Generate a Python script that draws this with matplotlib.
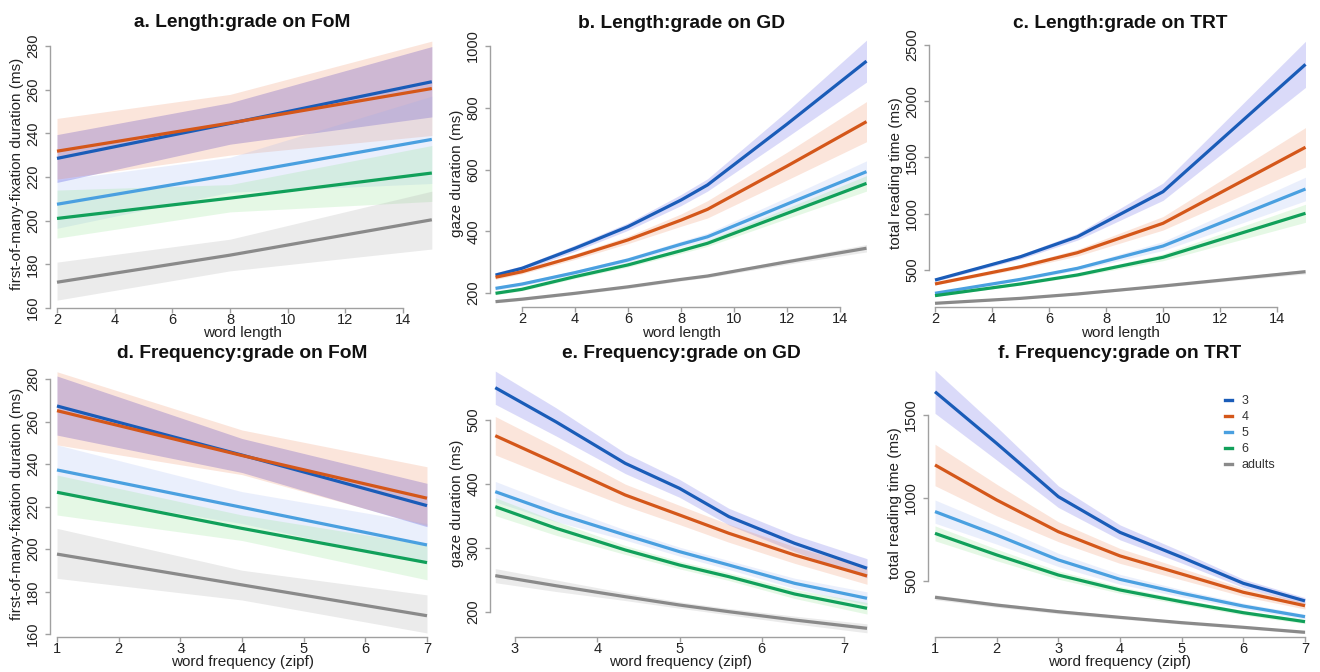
import matplotlib
matplotlib.use("Agg")
import matplotlib.pyplot as plt
from matplotlib.lines import Line2D
import numpy as np

plt.rcParams['font.family'] = ['Liberation Sans', 'DejaVu Sans']

# ---------------- data ----------------
groups = ['3', '4', '5', '6', 'adults']

# a. Length:grade on FoM
a_x = [2, 8, 15]
a_fit = {'3': [228.5, 244.5, 263.6], '4': [231.8, 244.7, 260.5], '5': [207.5, 220.9, 237.2],
         '6': [201.0, 210.3, 221.8], 'adults': [171.8, 184.2, 200.4]}
a_lo = {'3': [217.5, 235.0, 247.5], '4': [219.0, 230.0, 239.0], '5': [196.5, 213.0, 217.0],
        '6': [192.0, 204.0, 208.8], 'adults': [163.6, 177.0, 187.0]}
a_hi = {'3': [239.4, 254.0, 279.7], '4': [246.8, 257.8, 282.2], '5': [218.5, 229.0, 257.0],
        '6': [214.0, 216.5, 234.4], 'adults': [181.0, 191.5, 213.5]}

# b. Length:grade on GD
b_x = [1, 2, 4, 6, 8, 9, 12, 15]
b_fit = {'3': [258, 280, 345, 415, 501, 550, 747, 951],
         '4': [251, 269, 318, 372, 436, 471, 611, 755],
         '5': [215, 229, 266, 307, 358, 382, 488, 593],
         '6': [199, 212, 253, 291, 337, 361, 458, 555],
         'adults': [172, 180, 199, 220, 244, 255, 301, 345]}
b_ci = {'3': [8, 8, 10, 12, 18, 20, 42, 68],
        '4': [7, 7, 9, 12, 20, 28, 45, 65],
        '5': [6, 6, 7, 8, 10, 12, 22, 35],
        '6': [5, 5, 6, 7, 9, 10, 17, 25],
        'adults': [4, 4, 4, 5, 5, 5, 8, 12]}

# c. Length:grade on TRT
c_x = [2, 5, 7, 10, 15]
c_fit = {'3': [411, 618, 796, 1196, 2328],
         '4': [376, 529, 654, 915, 1591],
         '5': [293, 417, 515, 713, 1220],
         '6': [272, 376, 456, 613, 1004],
         'adults': [204, 248, 287, 358, 485]}
c_ci = {'3': [12, 20, 30, 77, 205],
        '4': [10, 18, 30, 60, 175],
        '5': [8, 12, 18, 40, 105],
        '6': [7, 10, 15, 30, 80],
        'adults': [5, 6, 7, 10, 20]}

# d. Frequency:grade on FoM
d_x = [1, 4, 7]
d_fit = {'3': [267.3, 244.2, 220.4], '4': [265.1, 244.0, 223.9], '5': [237.2, 219.6, 201.9],
         '6': [226.7, 209.7, 193.6], 'adults': [197.6, 183.1, 168.6]}
d_lo = {'3': [253.6, 236.0, 210.5], '4': [249.0, 235.0, 211.0], '5': [226.0, 212.0, 193.0],
        '6': [216.0, 204.0, 185.5], 'adults': [186.2, 176.0, 160.5]}
d_hi = {'3': [281.4, 252.0, 230.9], '4': [283.4, 256.0, 238.7], '5': [249.0, 227.0, 212.0],
        '6': [234.8, 216.0, 202.0], 'adults': [209.7, 190.0, 178.4]}

# e. Frequency:grade on GD
e_x = [2.76, 3.5, 4.34, 5.0, 5.6, 6.4, 7.28]
e_fit = {'3': [550.5, 497, 432.3, 393.2, 349, 307.3, 268.3],
         '4': [475.5, 432.3, 382.8, 351.6, 323, 289, 256.3],
         '5': [388, 354.2, 320.3, 294.3, 273.4, 244.8, 221.4],
         '6': [364.6, 330.8, 296.9, 273.4, 255.2, 228.1, 205.8],
         'adults': [256.8, 241, 223.9, 210.9, 200.5, 187.5, 174.5]}
e_ci = {'3': [26, 22, 16, 14, 13, 13, 15],
        '4': [30, 25, 17, 15, 14, 13, 13],
        '5': [16, 13, 8, 7, 7, 8, 10],
        '6': [14, 11, 7, 6, 6, 7, 9],
        'adults': [11, 9, 6, 5, 5, 6, 7]}

# f. Frequency:grade on TRT
f_x = [1, 2, 3, 4, 5, 6, 7]
f_fit = {'3': [1640, 1329, 1008, 793, 643, 486, 380],
         '4': [1199, 988, 797, 651, 542, 432, 351],
         '5': [918, 777, 627, 510, 426, 349, 285],
         '6': [787, 657, 536, 446, 375, 309, 255],
         'adults': [402, 355, 315, 281, 249, 221, 191]}
f_ci = {'3': [130, 100, 65, 45, 35, 25, 20],
        '4': [125, 95, 60, 45, 35, 25, 20],
        '5': [70, 55, 40, 30, 22, 18, 15],
        '6': [45, 35, 25, 20, 16, 14, 12],
        'adults': [15, 13, 12, 10, 9, 8, 8]}

titles = ['a. Length:grade on FoM', 'b. Length:grade on GD', 'c. Length:grade on TRT',
          'd. Frequency:grade on FoM', 'e. Frequency:grade on GD', 'f. Frequency:grade on TRT']
ylabels = ['first-of-many-fixation duration (ms)', 'gaze duration (ms)', 'total reading time (ms)',
           'first-of-many-fixation duration (ms)', 'gaze duration (ms)', 'total reading time (ms)']
xlabels = ['word length', 'word length', 'word length',
           'word frequency (zipf)', 'word frequency (zipf)', 'word frequency (zipf)']
xticks_list = [[2, 4, 6, 8, 10, 12, 14]] * 3 + [[1, 2, 3, 4, 5, 6, 7], [3, 4, 5, 6, 7], [1, 2, 3, 4, 5, 6, 7]]
yticks_list = [[160, 180, 200, 220, 240, 260, 280], [200, 400, 600, 800, 1000], [500, 1000, 1500, 2000, 2500],
               [160, 180, 200, 220, 240, 260, 280], [200, 300, 400, 500], [500, 1000, 1500]]

# ---------------- styling ----------------
line_colors = {'3': '#1a5cb8', '4': '#d4571a', '5': '#4aa0e0', '6': '#11a05a', 'adults': '#8a8a8a'}
fill_colors = {'3': '#6f6fe8', '4': '#f08a5d', '5': '#8fa8f0', '6': '#7ee07e', 'adults': '#b0b0b0'}
fill_alpha = {'3': 0.25, '4': 0.22, '5': 0.18, '6': 0.2, 'adults': 0.25}

W, H = 1320, 672
fig = plt.figure(figsize=(W / 100, H / 100), dpi=100)
fig.patch.set_facecolor('white')

# pixel layout: (left, right, top, bottom), x calib, y calib, ylabel right edge px, xlabel top px
layout = [
    ((50, 435, 40, 308), (2, 57, 14, 403), (280, 46, 160, 311.5), 24, 326),
    ((490, 872, 40, 307), (2, 522, 14, 840), (1000, 46, 200, 293), 464, 326),
    ((929, 1312, 40, 307), (2, 935, 14, 1277), (2500, 45, 500, 270), 903, 326),
    ((50, 435, 370, 637), (1, 57, 7, 427), (280, 379, 160, 634), 24, 655),
    ((490, 872, 370, 637), (3, 515, 7, 844), (500, 420, 200, 612), 464, 655),
    ((928, 1312, 370, 637), (1, 935, 7, 1305), (1500, 415, 500, 581), 902, 655),
]

panels = [
    (a_x, a_fit, a_lo, a_hi, None),
    (b_x, b_fit, None, None, b_ci),
    (c_x, c_fit, None, None, c_ci),
    (d_x, d_fit, d_lo, d_hi, None),
    (e_x, e_fit, None, None, e_ci),
    (f_x, f_fit, None, None, f_ci),
]

axis_grey = '#a0a0a0'
text_col = '#222222'

for i, ((L, R, T, B), xc, yc, ylab_px, xlab_px) in enumerate(layout):
    ax = fig.add_axes([L / W, 1 - B / H, (R - L) / W, (B - T) / H])
    sx = (xc[3] - xc[1]) / (xc[2] - xc[0])
    ax.set_xlim(xc[0] - (xc[1] - L) / sx, xc[0] + (R - xc[1]) / sx)
    sy = (yc[3] - yc[1]) / (yc[2] - yc[0])
    ax.set_ylim(yc[0] + (B - yc[1]) / sy, yc[0] + (T - yc[1]) / sy)

    xs, fit, lo, hi, ci = panels[i]
    xs = np.array(xs, dtype=float)
    strong = i in (0, 3)
    for g in groups:
        f_ = np.array(fit[g], dtype=float)
        if ci is not None:
            lo_ = f_ - np.array(ci[g]); hi_ = f_ + np.array(ci[g])
        else:
            lo_ = np.array(lo[g]); hi_ = np.array(hi[g])
        al = fill_alpha[g]
        if strong and g == '3':
            al = 0.4
        ax.fill_between(xs, lo_, hi_, color=fill_colors[g], alpha=al, lw=0, clip_on=False)
    for g in groups:
        ax.plot(xs, fit[g], color=line_colors[g], lw=2.3, solid_capstyle='butt', clip_on=False)

    for s in ('top', 'right'):
        ax.spines[s].set_visible(False)
    for s in ('left', 'bottom'):
        ax.spines[s].set_color(axis_grey)
        ax.spines[s].set_linewidth(1.0)
    xt = xticks_list[i]; yt = yticks_list[i]
    ax.set_xticks(xt); ax.set_yticks(yt)
    ax.spines['bottom'].set_bounds(xt[0], xt[-1])
    ax.spines['left'].set_bounds(yt[0], yt[-1])
    ax.tick_params(axis='both', length=3.5, width=1.0, color=axis_grey, labelcolor=text_col)
    ax.tick_params(axis='x', pad=0, labelsize=10.5)
    ax.tick_params(axis='y', pad=3.6, labelsize=10.5)
    ax.set_yticklabels([str(v) for v in yt], rotation=90, va='center', ha='right')
    ax.set_facecolor('none')

    ax.set_title(titles[i], fontsize=13.8, fontweight='bold', pad=9.0, color='#111111')
    ax.set_ylabel(ylabels[i], fontsize=11, color=text_col)
    ax.yaxis.set_label_coords((ylab_px - L) / (R - L), 0.5)
    ax.set_xlabel(xlabels[i], fontsize=11, color=text_col)
    ax.xaxis.set_label_coords(0.5, (B - xlab_px) / (B - T))

    if i == 5:
        handles = [Line2D([], [], color=line_colors[g], lw=2.4) for g in groups]
        leg = ax.legend(handles, groups, loc='upper left',
                        bbox_to_anchor=(1225 / W, 1 - 395 / H), bbox_transform=fig.transFigure,
                        frameon=False, fontsize=9, handlelength=0.55, handletextpad=0.8,
                        labelspacing=0.32, borderpad=0, borderaxespad=0)
        for t in leg.get_texts():
            t.set_color('#333333')

fig.savefig('out.png', dpi=100)
